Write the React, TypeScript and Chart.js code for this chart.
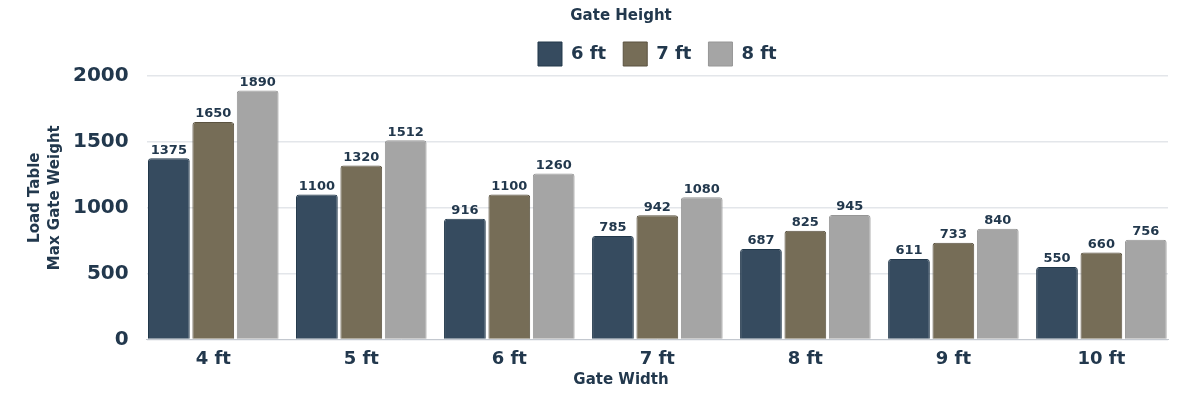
import React, { useEffect, useRef } from "react";
import { Chart, registerables } from "chart.js";

Chart.register(...registerables);

const categories = ["4 ft", "5 ft", "6 ft", "7 ft", "8 ft", "9 ft", "10 ft"];
const seriesNames = ["6 ft", "7 ft", "8 ft"];
const values6ft = [1375, 1100, 916, 785, 687, 611, 550];
const values7ft = [1650, 1320, 1100, 942, 825, 733, 660];
const values8ft = [1890, 1512, 1260, 1080, 945, 840, 756];
const yTicks = [0, 500, 1000, 1500, 2000];
const legendTitle = "Gate Height";
const xTitle = "Gate Width";
const yTitle = ["Load Table", "Max Gate Weight"];

const FONT = "'DejaVu Sans', sans-serif";
const TEXT = "#22384d";

const fills = ["#364b5f", "#766d57", "#a5a5a5"];
const borders = ["#22384b", "#5a5240", "#969696"];

const valueLabels = {
  id: "valueLabels",
  afterDatasetsDraw(chart: any) {
    const ctx = chart.ctx;
    ctx.save();
    ctx.font = `bold 13px ${FONT}`;
    ctx.fillStyle = TEXT;
    ctx.textAlign = "center";
    ctx.textBaseline = "middle";
    chart.data.datasets.forEach((ds: any, di: number) => {
      const meta = chart.getDatasetMeta(di);
      meta.data.forEach((bar: any, i: number) => {
        const v = ds.data[i];
        const val = typeof v === "object" ? v.y : v;
        ctx.fillText(String(val), bar.x, bar.y - 8);
      });
    });
    ctx.restore();
  },
};

const titles = {
  id: "titles",
  afterDraw(chart: any) {
    const ctx = chart.ctx;
    const cx = chart.width / 2 + 21;
    ctx.save();
    ctx.font = `bold 15px ${FONT}`;
    ctx.fillStyle = TEXT;
    ctx.textAlign = "center";
    ctx.textBaseline = "middle";
    ctx.fillText(legendTitle, cx, 16);
    ctx.fillText(xTitle, cx, chart.height - 16);
    ctx.translate(35, (chart.chartArea.top + chart.chartArea.bottom) / 2 - 10);
    ctx.rotate(-Math.PI / 2);
    ctx.fillText(yTitle[0], 0, 0);
    ctx.fillText(yTitle[1], 0, 20);
    ctx.restore();
  },
};

export default function App() {
  const ref = useRef<HTMLCanvasElement>(null);

  useEffect(() => {
    if (!ref.current) return;
    const series = [values6ft, values7ft, values8ft];
    const chart = new Chart(ref.current, {
      type: "bar",
      data: {
        datasets: series.map((vals, si) => ({
          label: seriesNames[si],
          data: vals.map((v, i) => ({ x: i, y: v })),
          backgroundColor: fills[si],
          borderColor: borders[si],
          borderWidth: 1,
          borderRadius: { topLeft: 3, topRight: 3, bottomLeft: 0, bottomRight: 0 },
          borderSkipped: "bottom",
          categoryPercentage: 0.9,
          barPercentage: 0.94,
        })),
      },
      options: {
        animation: false,
        responsive: true,
        maintainAspectRatio: false,
        layout: { padding: { top: 25, right: 32, bottom: 17, left: 55 } },
        plugins: {
          legend: {
            position: "top",
            fullSize: false,
            labels: {
              boxWidth: 24,
              boxHeight: 24,
              padding: 17,
              color: TEXT,
              font: { family: FONT, size: 18, weight: "bold" },
            },
          },
          tooltip: { enabled: false },
          title: { display: false },
        },
        scales: {
          x: {
            type: "linear",
            min: -0.45,
            max: categories.length - 1 + 0.45,
            offset: false,
            grid: { display: false, drawTicks: false },
            border: { display: true, color: "#c3c8cf", width: 1 },
            afterBuildTicks: (axis: any) => {
              axis.ticks = categories.map((_, i) => ({ value: i }));
            },
            ticks: {
              padding: 9,
              maxRotation: 0,
              color: TEXT,
              font: { family: FONT, size: 18, weight: "bold" },
              callback: (v: any) => categories[Math.round(Number(v))] ?? "",
            },
          },
          y: {
            min: 0,
            max: 2000,
            afterBuildTicks: (axis: any) => {
              axis.ticks = yTicks.map((v) => ({ value: v }));
            },
            grid: { color: "#e3e6ea", lineWidth: 1.5, drawTicks: false },
            border: { display: false },
            ticks: {
              padding: 18,
              color: TEXT,
              font: { family: FONT, size: 20, weight: "bold" },
              callback: (v: any) => String(v),
            },
          },
        },
      },
      plugins: [valueLabels, titles],
    } as any);
    return () => chart.destroy();
  }, []);

  return (
    <div style={{ position: "fixed", left: 0, top: 0, width: 1200, height: 396, background: "#fff" }}>
      <canvas ref={ref} />
    </div>
  );
}
